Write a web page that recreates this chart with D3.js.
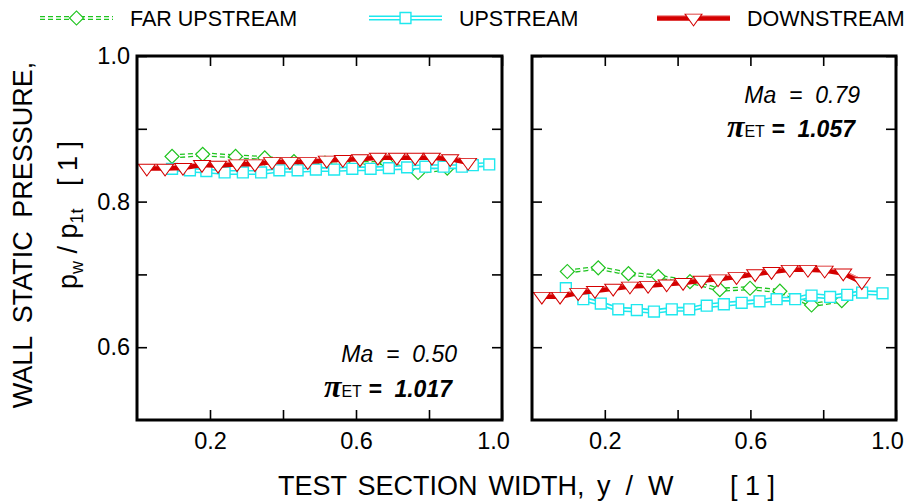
<!DOCTYPE html>
<html>
<head>
<meta charset="utf-8">
<script src="https://cdn.jsdelivr.net/npm/d3@7"></script>
<style>
  body { margin: 0; background: #fff; }
  text { font-family: "Liberation Sans", Arial, sans-serif; }
</style>
</head>
<body>
<script>
// ---- data ----
// left panel, Ma = 0.50
var farX_a  = [0.096, 0.18, 0.27, 0.35, 0.43, 0.515, 0.60, 0.685, 0.77, 0.85];
var farY_a  = [0.862, 0.865, 0.862, 0.860, 0.855, 0.853, 0.853, 0.853, 0.840, 0.846];
var upX_a   = [0.096, 0.145, 0.19, 0.24, 0.29, 0.34, 0.39, 0.44, 0.49, 0.54, 0.59, 0.64, 0.69, 0.74, 0.79, 0.84, 0.89, 0.92, 0.965];
var upY_a   = [0.845, 0.843, 0.842, 0.840, 0.840, 0.840, 0.843, 0.843, 0.844, 0.844, 0.845, 0.845, 0.846, 0.847, 0.848, 0.848, 0.848, 0.850, 0.851];
var downX_a = [0.027, 0.077, 0.126, 0.178, 0.222, 0.274, 0.323, 0.370, 0.419, 0.468, 0.520, 0.564, 0.611, 0.660, 0.712, 0.762, 0.808, 0.858, 0.907];
var downY_a = [0.846, 0.846, 0.847, 0.851, 0.850, 0.852, 0.852, 0.855, 0.855, 0.855, 0.857, 0.858, 0.859, 0.861, 0.861, 0.861, 0.861, 0.859, 0.854];

// right panel, Ma = 0.79
var farX_b  = [0.097, 0.182, 0.265, 0.347, 0.434, 0.516, 0.599, 0.681, 0.768, 0.851];
var farY_b  = [0.704, 0.709, 0.701, 0.697, 0.690, 0.679, 0.681, 0.677, 0.658, 0.664];
var upX_b   = [0.093, 0.141, 0.189, 0.237, 0.288, 0.335, 0.384, 0.432, 0.480, 0.527, 0.576, 0.625, 0.672, 0.723, 0.768, 0.819, 0.866, 0.907, 0.963];
var upY_b   = [0.681, 0.666, 0.660, 0.652, 0.651, 0.649, 0.652, 0.652, 0.657, 0.659, 0.661, 0.663, 0.666, 0.666, 0.671, 0.669, 0.672, 0.675, 0.674];
var downX_b = [0.027, 0.077, 0.127, 0.173, 0.223, 0.269, 0.319, 0.370, 0.415, 0.466, 0.511, 0.562, 0.613, 0.658, 0.708, 0.758, 0.804, 0.855, 0.906];
var downY_b = [0.670, 0.670, 0.675, 0.678, 0.681, 0.684, 0.685, 0.687, 0.689, 0.692, 0.694, 0.697, 0.701, 0.704, 0.707, 0.707, 0.706, 0.702, 0.690];

var machNumbers = ["0.50", "0.79"];
var piValues    = ["1.017", "1.057"];
var seriesNames = ["FAR UPSTREAM", "UPSTREAM", "DOWNSTREAM"];
var xTicks      = [0.2, 0.4, 0.6, 0.8, 1.0];
var xLabelled   = [0.2, 0.6, 1.0];
var yTicks      = [0.6, 0.7, 0.8, 0.9, 1.0];
var yLabelled   = [0.6, 0.8, 1.0];

var width = 907, height = 501;
var top_ = 56, bottom = 420;

var svg = d3.select("body").append("svg")
  .attr("width", width)
  .attr("height", height);

var y = d3.scaleLinear().domain([0.5, 1.0]).range([bottom, top_]);

var GREEN = "#1fc41f", CYAN = "#1ee8ee", RED = "#d40000";

function zip(xs, ys) { return xs.map(function(d, i) { return [d, ys[i]]; }); }

// line drawers, each series has its own look
function farLine(g, pts) {
  g.append("path").attr("d", pts).attr("fill", "none")
    .attr("stroke", GREEN).attr("stroke-width", 4.2).attr("stroke-dasharray", "5,3");
  g.append("path").attr("d", pts).attr("fill", "none")
    .attr("stroke", "#fff").attr("stroke-width", 1.6).attr("stroke-dasharray", "5,3");
}
function upLine(g, pts) {
  g.append("path").attr("d", pts).attr("fill", "none")
    .attr("stroke", CYAN).attr("stroke-width", 5);
  g.append("path").attr("d", pts).attr("fill", "none")
    .attr("stroke", "#fff").attr("stroke-width", 1.8);
}
function downLine(g, pts) {
  g.append("path").attr("d", pts).attr("fill", "none")
    .attr("stroke", RED).attr("stroke-width", 5.5);
  g.append("path").attr("d", pts).attr("fill", "none")
    .attr("stroke", "#f29a9a").attr("stroke-width", 1.2)
    .attr("transform", "translate(0,-2.4)");
}

var diamond = d3.symbol().type(d3.symbolSquare).size(98)();
var square = d3.symbol().type(d3.symbolSquare).size(118)();
var tri = d3.symbol().type(d3.symbolTriangle).size(125)();

function farMarks(g, pts) {
  g.selectAll(null).data(pts).enter().append("path")
    .attr("d", diamond)
    .attr("transform", function(d) { return "translate(" + d + ") rotate(45)"; })
    .attr("fill", "#fff").attr("stroke", GREEN).attr("stroke-width", 1.2);
}
function upMarks(g, pts) {
  g.selectAll(null).data(pts).enter().append("path")
    .attr("d", square)
    .attr("transform", function(d) { return "translate(" + d + ")"; })
    .attr("fill", "#fff").attr("stroke", CYAN).attr("stroke-width", 1.4);
}
function downMarks(g, pts) {
  g.selectAll(null).data(pts).enter().append("path")
    .attr("d", tri)
    .attr("transform", function(d) { return "translate(" + d + ") rotate(180) scale(1,0.8)"; })
    .attr("fill", "#fff").attr("stroke", RED).attr("stroke-width", 1.1);
}

var panels = [
  { x0: 137, x1: 502, far: zip(farX_a, farY_a), up: zip(upX_a, upY_a), down: zip(downX_a, downY_a),
    ma: machNumbers[0], pi: piValues[0], maX: 457, maY: 362, piX: 452, piY: 397, labels: true },
  { x0: 532, x1: 896, far: zip(farX_b, farY_b), up: zip(upX_b, upY_b), down: zip(downX_b, downY_b),
    ma: machNumbers[1], pi: piValues[1], maX: 860, maY: 103, piX: 855, piY: 137, labels: false }
];

panels.forEach(function(p) {
  var x = d3.scaleLinear().domain([0, 1]).range([p.x0, p.x1]);
  var g = svg.append("g");

  // ticks (inward) on all four sides
  var fmtX = function(d) { return xLabelled.indexOf(d) >= 0 ? d.toFixed(1) : ""; };
  var bx = g.append("g").attr("transform", "translate(0," + bottom + ")")
    .call(d3.axisBottom(x).tickValues(xTicks).tickSize(-10).tickPadding(12).tickFormat(fmtX));
  bx.selectAll("text").filter(function(d) { return d === 1.0; }).attr("dx", -9);
  g.append("g").attr("transform", "translate(0," + top_ + ")")
    .call(d3.axisTop(x).tickValues(xTicks).tickSize(-10).tickFormat(""));
  var fmtY = function(d) { return p.labels && yLabelled.indexOf(d) >= 0 ? d.toFixed(1) : ""; };
  g.append("g").attr("transform", "translate(" + p.x0 + ",0)")
    .call(d3.axisLeft(y).tickValues(yTicks).tickSize(-10).tickPadding(7).tickFormat(fmtY));
  g.append("g").attr("transform", "translate(" + p.x1 + ",0)")
    .call(d3.axisRight(y).tickValues(yTicks).tickSize(-10).tickFormat(""));

  g.selectAll(".domain").remove();
  g.selectAll(".tick line").attr("stroke", "#000").attr("stroke-width", 1.6);
  g.selectAll(".tick text").attr("font-size", 23.5).attr("fill", "#000")
    .attr("font-family", "Liberation Sans, Arial, sans-serif");

  // data
  var line = d3.line().x(function(d) { return x(d[0]); }).y(function(d) { return y(d[1]); });
  var px = function(arr) { return arr.map(function(d) { return [x(d[0]), y(d[1])]; }); };
  var gd = g.append("g");
  farLine(gd, line(p.far));
  farMarks(gd, px(p.far));
  upLine(gd, line(p.up));
  upMarks(gd, px(p.up));
  downLine(gd, line(p.down));
  downMarks(gd, px(p.down));

  // frame
  g.append("rect")
    .attr("x", p.x0).attr("y", top_)
    .attr("width", p.x1 - p.x0).attr("height", bottom - top_)
    .attr("fill", "none").attr("stroke", "#000").attr("stroke-width", 3);

  // annotations
  g.append("text").attr("x", p.maX).attr("y", p.maY)
    .attr("text-anchor", "end").attr("font-size", 23).attr("font-style", "italic")
    .attr("xml:space", "preserve")
    .text("Ma  =  " + p.ma);
  var t = g.append("text").attr("x", p.piX).attr("y", p.piY)
    .attr("text-anchor", "end").attr("xml:space", "preserve");
  t.append("tspan").text("\u03c0")
    .attr("font-family", "Liberation Serif, Times New Roman, serif")
    .attr("font-size", 32).attr("font-weight", "bold").attr("font-style", "italic");
  t.append("tspan").text("ET").attr("font-size", 16);
  t.append("tspan").text(" =  " + p.pi)
    .attr("font-size", 23).attr("font-weight", "bold").attr("font-style", "italic");
});

// axis titles
svg.append("text").attr("x", 278).attr("y", 495).attr("font-size", 27)
  .attr("word-spacing", 3.5)
  .text("TEST SECTION WIDTH,");
svg.append("text").attr("x", 597).attr("y", 495).attr("font-size", 27)
  .attr("xml:space", "preserve").text("y  /  W");
svg.append("text").attr("x", 730).attr("y", 495).attr("font-size", 27)
  .attr("xml:space", "preserve").text("[ 1 ]");

svg.append("text").attr("transform", "translate(32,235) rotate(-90)")
  .attr("text-anchor", "middle").attr("font-size", 27).attr("word-spacing", 6)
  .text("WALL STATIC PRESSURE,");
var yt = svg.append("text").attr("transform", "translate(77,215) rotate(-90)")
  .attr("text-anchor", "middle").attr("font-size", 27).attr("xml:space", "preserve");
yt.append("tspan").text("p");
yt.append("tspan").text("w").attr("font-size", 18).attr("dy", 6);
yt.append("tspan").text(" / p").attr("dy", -6);
yt.append("tspan").text("1t").attr("font-size", 18).attr("dy", 6);
yt.append("tspan").text("   [ 1 ]").attr("dy", -6);

// legend
var legendX = [40, 369, 657];
var legendLines = [farLine, upLine, downLine];
var legendMarks = [farMarks, upMarks, downMarks];
seriesNames.forEach(function(name, i) {
  var lg = svg.append("g");
  var x0 = legendX[i], x1 = x0 + 73, ly = 18;
  legendLines[i](lg, d3.line()([[x0, ly], [x1, ly]]));
  legendMarks[i](lg, [[(x0 + x1) / 2, ly]]);
  lg.append("text").attr("x", x1 + 17).attr("y", 26).attr("font-size", 21.5).text(name);
});
</script>
</body>
</html>
